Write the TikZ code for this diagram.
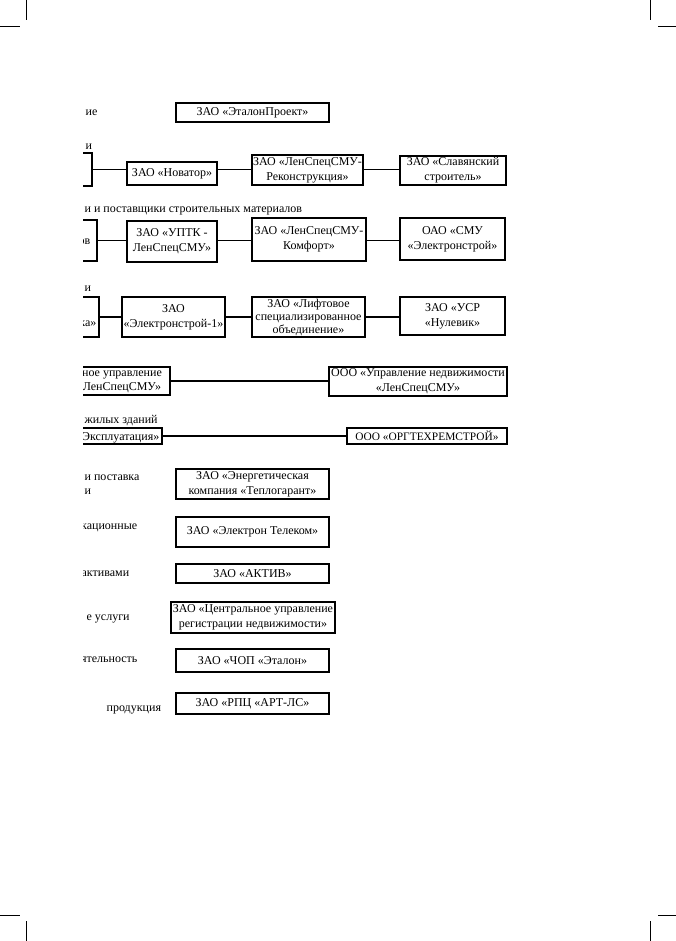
\documentclass[tikz,border=0pt]{standalone}
\usepackage{fontspec}
\setmainfont{Liberation Serif}
\begin{document}
\begin{tikzpicture}[x=1pt,y=-1pt,line width=1.3pt,font=\fontsize{12}{15}\selectfont,
  box/.style={draw,rectangle,inner sep=0pt,align=center},
  lbl/.style={inner sep=0pt,anchor=base west}]
\useasboundingbox (0,0) rectangle (676,941);

\draw[line width=0.9pt] (26,0) -- (26,20);
\draw[line width=0.9pt] (0,26) -- (20,26);
\draw[line width=0.9pt] (650,0) -- (650,20);
\draw[line width=0.9pt] (658,26) -- (676,26);
\draw[line width=0.9pt] (0,915) -- (20,915);
\draw[line width=0.9pt] (26,921) -- (26,941);
\draw[line width=0.9pt] (658,915) -- (676,915);
\draw[line width=0.9pt] (650,921) -- (650,941);

\begin{scope}
\clip (83,0) rectangle (676,941);

\node[lbl] (1_t) at (85,116) {ие};
\node[box,minimum width=153pt,minimum height=19pt] (1_1) at (252.5,112.5) {ЗАО «ЭталонПроект»};

\node[lbl] (2_t) at (85,150) {и};
\node[box,minimum width=40pt,minimum height=33pt] (2_0) at (72,169.5) {};
\node[box,minimum width=90pt,minimum height=23pt] (2_1) at (172,173.5) {ЗАО «Новатор»};
\node[box,minimum width=111pt,minimum height=30pt] (2_2) at (307.5,170) {ЗАО «ЛенСпецСМУ-\\Реконструкция»};
\node[box,minimum width=106pt,minimum height=29pt] (2_3) at (453,170.5) {ЗАО «Славянский\\строитель»};

\draw (2_0) -- (2_1.west |- 2_0);
\draw (2_1.east |- 2_0) -- (2_2.west |- 2_0);
\draw (2_2.east |- 2_0) -- (2_3.west |- 2_0);

\node[lbl] (3_t) at (84,213) {и и поставщики строительных материалов};
\node[box,minimum width=40pt,minimum height=41pt] (3_0) at (77,240.5) {};
\node[lbl,anchor=base east] (3_0t) at (91,244) {ов};
\node[box,minimum width=90pt,minimum height=41pt] (3_1) at (172,241.5) {ЗАО «УПТК -\\ЛенСпецСМУ»};
\node[box,minimum width=114pt,minimum height=43pt] (3_2) at (309,239.5) {ЗАО «ЛенСпецСМУ-\\Комфорт»};
\node[box,minimum width=105pt,minimum height=42pt] (3_3) at (452.5,239) {ОАО «СМУ\\«Электронстрой»};

\draw (3_0) -- (3_1.west |- 3_0);
\draw (3_1.east |- 3_0) -- (3_2.west |- 3_0);
\draw (3_2.east |- 3_0) -- (3_3.west |- 3_0);

\node[lbl] (4_t) at (84,291) {и};
\node[box,minimum width=40pt,minimum height=40pt] (4_0) at (79,317) {};
\node[lbl,anchor=base east] (4_0t) at (97,326) {ка»};
\node[box,minimum width=103pt,minimum height=40pt] (4_1) at (173.5,317) {ЗАО\\«Электронстрой-1»};
\node[box,minimum width=113pt,minimum height=40pt,font=\fontsize{12}{13}\selectfont] (4_2) at (308.5,317) {ЗАО «Лифтовое\\специализированное\\объединение»};
\node[box,minimum width=105pt,minimum height=38pt] (4_3) at (452.5,316) {ЗАО «УСР\\«Нулевик»};

\draw (4_0) -- (4_1.west |- 4_0);
\draw (4_1.east |- 4_0) -- (4_2.west |- 4_0);
\draw (4_2.east |- 4_0) -- (4_3.west |- 4_0);

\node[box,minimum width=110pt,minimum height=28pt] (5_0) at (115,381) {};
\node[inner sep=0pt,align=center,font=\fontsize{12}{14}\selectfont] (5_0t) at (122,382) {ное управление\\ЛенСпецСМУ»};
\node[box,minimum width=178pt,minimum height=29pt] (5_1) at (418,381.5) {ООО «Управление недвижимости\\«ЛенСпецСМУ»};

\draw (5_0) -- (5_1.west |- 5_0);

\node[lbl] (6_t) at (84,423) {жилых зданий};
\node[box,minimum width=100pt,minimum height=16pt] (6_0) at (112,436) {};
\node[lbl,anchor=base east] (6_0t) at (160,440) {Эксплуатация»};
\node[box,minimum width=160pt,minimum height=16pt,font=\fontsize{11.4}{14}\selectfont] (6_1) at (427,436) {ООО «ОРГТЕХРЕМСТРОЙ»};

\draw (6_0) -- (6_1.west |- 6_0);

\node[inner sep=0pt,align=left,anchor=west,font=\fontsize{12}{14}\selectfont] (7_t) at (84,485) {и поставка\\и};
\node[box,minimum width=153pt,minimum height=30pt] (7_1) at (252.5,484) {ЗАО «Энергетическая\\компания «Теплогарант»};

\node[lbl] (8_t) at (80.5,529) {кационные};
\node[box,minimum width=153pt,minimum height=30pt] (8_1) at (252.5,532) {ЗАО «Электрон Телеком»};

\node[lbl] (9_t) at (81,576) {активами};
\node[box,minimum width=153pt,minimum height=19pt] (9_1) at (252.5,573.5) {ЗАО «АКТИВ»};

\node[lbl] (10_t) at (86,620) {е услуги};
\node[box,minimum width=164pt,minimum height=31pt] (10_1) at (253,617.5) {ЗАО «Центральное управление\\регистрации недвижимости»};

\node[lbl] (11_t) at (80.5,662) {ятельность};
\node[box,minimum width=153pt,minimum height=23pt] (11_1) at (252.5,660.5) {ЗАО «ЧОП «Эталон»};

\node[lbl] (12_t) at (106,711) {продукция};
\node[box,minimum width=153pt,minimum height=21pt] (12_1) at (252.5,703.5) {ЗАО «РПЦ «АРТ-ЛС»};

\end{scope}
\end{tikzpicture}
\end{document}
